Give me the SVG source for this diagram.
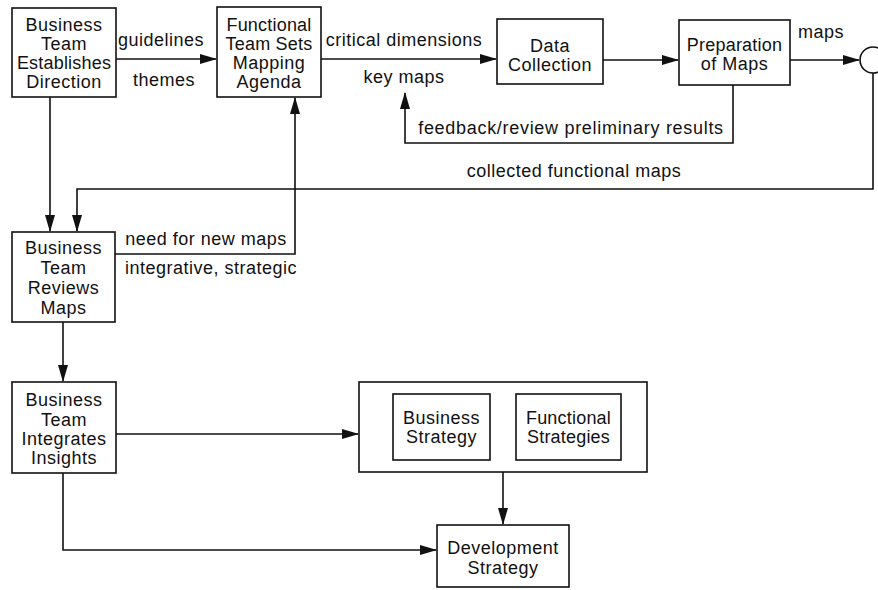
<svg xmlns="http://www.w3.org/2000/svg" width="878" height="590" viewBox="0 0 878 590">
<style>
.box{fill:#fff;stroke:#111;stroke-width:1.6}
.ln{fill:none;stroke:#111;stroke-width:1.6}
text{font-family:"Liberation Sans",Arial,sans-serif;font-size:18px;fill:#111;letter-spacing:0.5px;text-anchor:middle}
.tight{letter-spacing:0.2px}
</style>
<defs>
<marker id="ah" markerUnits="userSpaceOnUse" markerWidth="17" markerHeight="10" refX="16" refY="5" orient="auto">
<path d="M0,0 L17,5 L0,10 Z" fill="#111"/>
</marker>
</defs>
<rect width="878" height="590" fill="#fff"/>
<g id="connectors">
<path class="ln" d="M116,59 H216" marker-end="url(#ah)"/>
<path class="ln" d="M321,59 H496" marker-end="url(#ah)"/>
<path class="ln" d="M603,60 H678" marker-end="url(#ah)"/>
<path class="ln" d="M790,60 H859" marker-end="url(#ah)"/>
<path class="ln" d="M733,85 V143 H405 V93" marker-end="url(#ah)"/>
<path class="ln" d="M873,73 V189 H77 V231" marker-end="url(#ah)"/>
<path class="ln" d="M50,97 V231" marker-end="url(#ah)"/>
<path class="ln" d="M115,254 H295 V98" marker-end="url(#ah)"/>
<path class="ln" d="M63,322 V381" marker-end="url(#ah)"/>
<path class="ln" d="M116,434 H358" marker-end="url(#ah)"/>
<path class="ln" d="M503,472 V524" marker-end="url(#ah)"/>
<path class="ln" d="M63,473 V550 H436" marker-end="url(#ah)"/>
<text x="161" y="46">guidelines</text>
<text x="164" y="86">themes</text>
<text x="404" y="46">critical dimensions</text>
<text x="404" y="83">key maps</text>
<text x="821" y="38">maps</text>
<text x="571" y="134" style="letter-spacing:0.7px">feedback/review preliminary results</text>
<text x="574" y="177">collected functional maps</text>
<text x="206" y="245">need for new maps</text>
<text x="211" y="274">integrative, strategic</text>
</g>
<g id="n-establish">
<rect class="box" x="12" y="8" width="104" height="89"/>
<text x="64" y="31">Business</text><text x="64" y="50">Team</text><text x="64" y="69" class="tight">Establishes</text><text x="64" y="88">Direction</text>
</g>
<g id="n-agenda">
<rect class="box" x="217" y="7" width="104" height="90"/>
<text x="269" y="31" class="tight">Functional</text><text x="269" y="50" class="tight">Team Sets</text><text x="269" y="69">Mapping</text><text x="269" y="88">Agenda</text>
</g>
<g id="n-data">
<rect class="box" x="497" y="19" width="106" height="65"/>
<text x="550" y="52">Data</text><text x="550" y="71">Collection</text>
</g>
<g id="n-prep">
<rect class="box" x="679" y="20" width="111" height="65"/>
<text x="734.5" y="51" class="tight">Preparation</text><text x="734.5" y="70">of Maps</text>
</g>
<g id="n-circle">
<circle class="box" cx="873" cy="60" r="13"/>
</g>
<g id="n-reviews">
<rect class="box" x="12" y="232" width="103" height="90"/>
<text x="63.5" y="254">Business</text><text x="63.5" y="274">Team</text><text x="63.5" y="294">Reviews</text><text x="63.5" y="314">Maps</text>
</g>
<g id="n-integrates">
<rect class="box" x="12" y="382" width="104" height="91"/>
<text x="64" y="406">Business</text><text x="64" y="426">Team</text><text x="64" y="445">Integrates</text><text x="64" y="464">Insights</text>
</g>
<g id="n-strategies">
<rect class="box" x="359" y="382" width="288" height="90"/>
<g id="n-business-strategy">
<rect class="box" x="393" y="394" width="97" height="66"/>
<text x="441.5" y="424">Business</text><text x="441.5" y="443">Strategy</text>
</g>
<g id="n-functional-strategies">
<rect class="box" x="516" y="394" width="105" height="66"/>
<text x="568.5" y="424" class="tight">Functional</text><text x="568.5" y="443" class="tight">Strategies</text>
</g>
</g>
<g id="n-development">
<rect class="box" x="437" y="525" width="132" height="62"/>
<text x="503" y="554">Development</text><text x="503" y="574">Strategy</text>
</g>
</svg>
